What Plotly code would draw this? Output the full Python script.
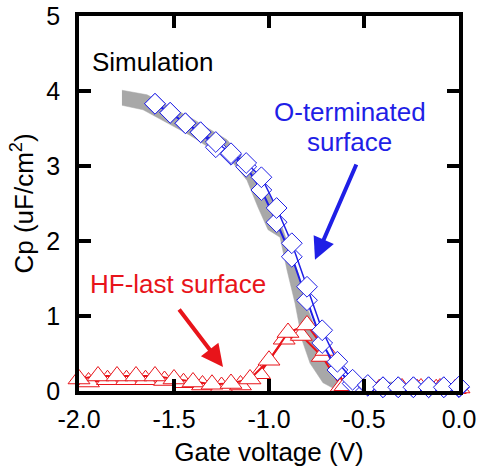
import plotly.graph_objects as go

# Blue diamonds: O-terminated surface (two sweeps)
o_x = [-1.60, -1.52, -1.44, -1.36, -1.28, -1.20, -1.12, -1.04, -0.96, -0.88, -0.80,
       -0.72, -0.64, -0.56, -0.48, -0.40, -0.32, -0.24, -0.16, -0.08, 0.00]
o_y1 = [3.83, 3.71, 3.57, 3.45, 3.32, 3.17, 3.04, 2.85, 2.44, 1.97, 1.39,
        0.81, 0.39, 0.15, 0.08, 0.05, 0.05, 0.05, 0.05, 0.05, 0.06]
o_y2 = [3.83, 3.71, 3.57, 3.45, 3.25, 3.15, 2.99, 2.68, 2.25, 1.79, 1.21,
        0.64, 0.28, 0.10, 0.07, 0.05, 0.05, 0.05, 0.05, 0.05, 0.05]

# Red triangles: HF-last surface (two sweeps)
hf_x1 = [-2.0, -1.9, -1.8, -1.7, -1.6, -1.5, -1.4, -1.3, -1.2, -1.1, -1.0,
         -0.9, -0.8, -0.7, -0.6, -0.5, -0.4, -0.3, -0.2, -0.1, 0.0]
hf_y1 = [0.16, 0.20, 0.20, 0.20, 0.20, 0.16, 0.12, 0.09, 0.10, 0.16, 0.41,
         0.78, 0.88, 0.54, 0.07, 0.04, 0.04, 0.04, 0.04, 0.04, 0.04]
hf_x2 = [-1.95, -1.85, -1.75, -1.65, -1.55, -1.45, -1.35, -1.25, -1.15, -1.05,
         -0.92, -0.83, -0.72, -0.62, -0.52, -0.42, -0.32, -0.22, -0.12, -0.02]
hf_y2 = [0.12, 0.15, 0.15, 0.15, 0.14, 0.11, 0.08, 0.06, 0.08, 0.23,
         0.69, 0.74, 0.46, 0.06, 0.03, 0.03, 0.03, 0.03, 0.03, 0.03]

# Simulation band (upper edge, then lower edge back)
sim_upper_x = [-1.774, -1.642, -1.416, -1.221, -1.089, -1.058, -0.984, -0.926,
               -0.847, -0.800, -0.768, -0.695, -0.642, -0.589, -0.347]
sim_upper_y = [4.01, 3.95, 3.65, 3.35, 2.95, 2.85, 2.55, 2.15,
               1.57, 1.12, 0.91, 0.41, 0.19, 0.11, 0.12]
sim_lower_x = [-0.347, -0.642, -0.716, -0.784, -0.826, -0.863, -0.905, -0.942,
               -1.005, -1.058, -1.116, -1.189, -1.416, -1.663, -1.774]
sim_lower_y = [0.04, 0.01, 0.11, 0.37, 0.68, 1.17, 1.61, 2.05,
               2.15, 2.45, 2.81, 3.04, 3.41, 3.75, 3.81]

x_ticks = [-2.0, -1.5, -1.0, -0.5, 0.0]
y_ticks = [0, 1, 2, 3, 4, 5]

BLUE = "#1f1fe6"
RED = "#e8141a"
FONT = "Liberation Sans, Arial, sans-serif"

fig = go.Figure()

fig.add_trace(go.Scatter(
    x=sim_upper_x + sim_lower_x, y=sim_upper_y + sim_lower_y,
    mode="lines", fill="toself", fillcolor="#a8a8a8",
    line=dict(color="#a8a8a8", width=0.5), hoverinfo="skip", showlegend=False))

for hx, hy in [(hf_x2, hf_y2), (hf_x1, hf_y1)]:
    fig.add_trace(go.Scatter(
        x=hx, y=hy, mode="lines+markers", cliponaxis=False,
        line=dict(color=RED, width=2),
        marker=dict(symbol="triangle-up", size=19, color="white",
                    line=dict(color=RED, width=1)),
        showlegend=False))

for oy, lw in [(o_y2, 2), (o_y1, 1.5)]:
    fig.add_trace(go.Scatter(
        x=o_x, y=oy, mode="lines+markers", cliponaxis=False,
        line=dict(color=BLUE, width=lw),
        marker=dict(symbol="diamond", size=16, color="white",
                    line=dict(color=BLUE, width=1)),
        showlegend=False))

axis_common = dict(
    showline=True, linecolor="black", linewidth=3.5, mirror="ticks",
    ticks="inside", ticklen=12, tickwidth=3.5, tickcolor="black",
    showgrid=False, zeroline=False, automargin=False,
    tickfont=dict(family=FONT, size=25, color="black"),
)

fig.update_xaxes(range=[-2.0, 0.0], tickvals=x_ticks,
                 ticktext=[f"{v:.1f}" for v in x_ticks],
                 ticklabelstandoff=3,
                 title=dict(text="Gate voltage (V)", font=dict(family=FONT, size=26, color="black"),
                            standoff=12),
                 **axis_common)
fig.update_yaxes(range=[0, 5], tickvals=y_ticks,
                 ticktext=[str(v) for v in y_ticks],
                 ticklabelstandoff=10,
                 title=dict(text="Cp (uF/cm<sup>2</sup>)", font=dict(family=FONT, size=26, color="black"),
                            standoff=6),
                 **axis_common)

fig.add_annotation(x=-1.942, y=4.39, text="Simulation", showarrow=False,
                   xanchor="left", yanchor="middle",
                   font=dict(family=FONT, size=26, color="black"))
fig.add_annotation(x=-0.574, y=3.72, text="O-terminated", showarrow=False,
                   xanchor="center", yanchor="middle",
                   font=dict(family=FONT, size=26, color=BLUE))
fig.add_annotation(x=-0.574, y=3.32, text="surface", showarrow=False,
                   xanchor="center", yanchor="middle",
                   font=dict(family=FONT, size=26, color=BLUE))
fig.add_annotation(x=-1.953, y=1.43, text="HF-last surface", showarrow=False,
                   xanchor="left", yanchor="middle",
                   font=dict(family=FONT, size=26, color=RED))

# arrows
fig.add_annotation(x=-0.758, y=1.75, ax=-0.537, ay=3.04, axref="x", ayref="y",
                   xref="x", yref="y", text="", showarrow=True,
                   arrowhead=2, arrowsize=1.1, arrowwidth=4, arrowcolor=BLUE)
fig.add_annotation(x=-1.242, y=0.32, ax=-1.479, ay=1.107, axref="x", ayref="y",
                   xref="x", yref="y", text="", showarrow=True,
                   arrowhead=2, arrowsize=1.1, arrowwidth=4, arrowcolor=RED)

fig.update_layout(
    width=479, height=474,
    margin=dict(l=79, r=20, t=16, b=83),
    paper_bgcolor="white", plot_bgcolor="white",
)

fig.write_html("out.html")
